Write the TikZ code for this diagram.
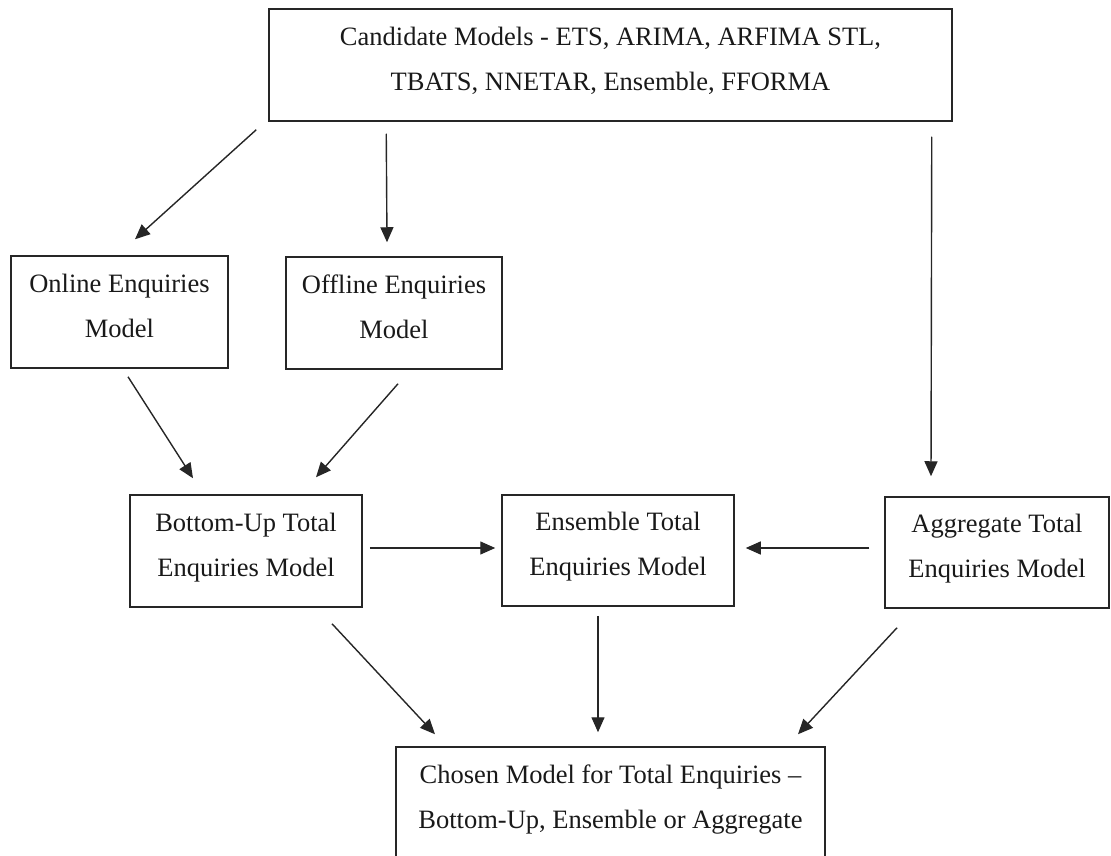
\documentclass[tikz,border=0pt]{standalone}
\usepackage{fontspec}
\setmainfont{Liberation Serif}
\usetikzlibrary{arrows.meta,calc}

% extra depth below the last line, as in the word-processor boxes
\newcommand{\padbelow}{\rule[-13pt]{0pt}{13pt}}

\tikzset{
  modelbox/.style={draw=black!85, line width=1.5pt, rectangle, inner sep=0pt,
    align=center, font=\fontsize{26.5}{45}\selectfont, text=black!90},
  flow/.style={draw=black!85, line width=1.4pt,
    -{Triangle[length=15pt,width=13pt]}}
}

\begin{document}
\begin{tikzpicture}[x=1pt,y=-1pt]
\useasboundingbox (0,0) rectangle (1111,856);
\clip (0,0) rectangle (1111,856);

% boxes
\node[modelbox, minimum width=683pt, minimum height=112pt] (cand) at (610.5,65)
  {Candidate Models - ETS, ARIMA, ARFIMA STL,\\TBATS, NNETAR, Ensemble, FFORMA\padbelow};
\node[modelbox, minimum width=217pt, minimum height=112pt] (online) at (119.5,312)
  {Online Enquiries\\Model\padbelow};
\node[modelbox, minimum width=216pt, minimum height=112pt] (offline) at (394,313)
  {Offline Enquiries\\Model\padbelow};
\node[modelbox, minimum width=232pt, minimum height=112pt] (bottomup) at (246,551)
  {Bottom-Up Total\\Enquiries Model\padbelow};
\node[modelbox, minimum width=232pt, minimum height=111pt] (ensemble) at (618,550.5)
  {Ensemble Total\\Enquiries Model\padbelow};
\node[modelbox, minimum width=224pt, minimum height=111pt] (aggregate) at (997,552.5)
  {Aggregate Total\\Enquiries Model\padbelow};
\node[modelbox, minimum width=429pt, minimum height=112pt] (chosen) at (610.5,803)
  {Chosen Model for Total Enquiries –\\Bottom-Up, Ensemble or Aggregate\padbelow};

% connectors
\draw[flow] ($(cand.south west)+(-12,8)$) -- ($(online.north)+(15.5,-16)$);
\draw[flow] ($(cand.south west)+(118,12)$) -- ($(offline.north)+(-7,-14)$);
\draw[flow] ($(cand.south east)+(-21,15)$) -- ($(aggregate.north)+(-66,-20)$);
\draw[flow] ($(online.south)+(8.5,8)$) -- ($(bottomup.north)+(-53,-16)$);
\draw[flow] ($(offline.south)+(4,14)$) -- ($(bottomup.north)+(70,-17)$);
\draw[flow] ($(bottomup.east)+(7,-3)$) -- ($(ensemble.west)+(-6,-2.5)$);
\draw[flow] ($(aggregate.west)+(-15,-4.5)$) -- ($(ensemble.east)+(11,-2.5)$);
\draw[flow] ($(bottomup.south)+(86,16)$) -- ($(chosen.north)+(-175.5,-12)$);
\draw[flow] ($(ensemble.south)+(-20,9)$) -- ($(chosen.north)+(-12.5,-14)$);
\draw[flow] ($(aggregate.south)+(-100,19)$) -- ($(chosen.north)+(187.5,-12)$);
\end{tikzpicture}
\end{document}
